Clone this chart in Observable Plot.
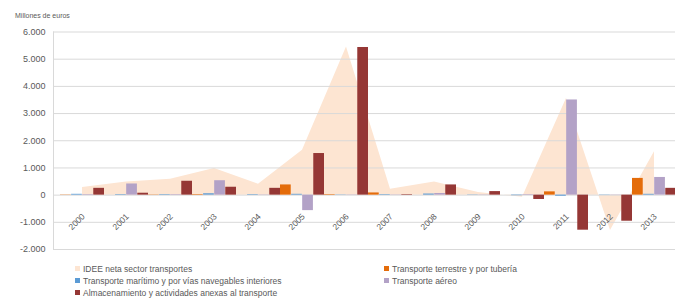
<!DOCTYPE html>
<html><head><meta charset="utf-8">
<script src="https://cdn.jsdelivr.net/npm/d3@7"></script>
<script src="https://cdn.jsdelivr.net/npm/@observablehq/plot@0.6"></script>
<style>
body{margin:0;background:#fff;font-family:"Liberation Sans Narrow","Liberation Sans",sans-serif;}
#wrap{position:relative;width:675px;height:302px;overflow:hidden;}
#chart{position:absolute;left:0;top:0;}
#title{position:absolute;left:15px;top:12px;font-size:7px;color:#595959;}
.leg{position:absolute;font-size:8.5px;line-height:10px;color:#595959;white-space:nowrap;}
.leg i{display:inline-block;width:5px;height:5px;margin-right:3px;vertical-align:1px;}
</style></head><body>
<div id="wrap"><div id="chart"></div><div id="title">Millones de euros</div><div id="legend"></div></div>
<script>
const years = ["2000","2001","2002","2003","2004","2005","2006","2007","2008","2009","2010","2011","2012","2013"];
const idee = [280, 480, 580, 980, 400, 1650, 5450, 220, 480, 100, -80, 3550, -1300, 1600];
const terrestre = [10, 0, 10, 20, 0, 375, 20, 80, 0, 0, 0, 120, 0, 615];
const maritimo = [30, 20, 20, 50, 20, 30, 10, 20, 40, 10, -20, -40, 10, 30];
const aereo = [20, 410, 20, 530, 10, -570, 10, 10, 60, 10, 20, 3500, 10, 650];
const almacenamiento = [250, 70, 510, 290, 250, 1530, 5430, 20, 375, 130, -160, -1290, -960, 250];
const yTicks = [-2000, -1000, 0, 1000, 2000, 3000, 4000, 5000, 6000];
const seriesNames = ["IDEE neta sector transportes","Transporte terrestre y por tubería","Transporte marítimo y por vías navegables interiores","Transporte aéreo","Almacenamiento y actividades anexas al transporte"];
const colors = ["#FDE5D2","#E46C0A","#5B9BD5","#B3A2C7","#953735"];

const data = years.map((year, i) => ({year, idee: idee[i], terrestre: terrestre[i], maritimo: maritimo[i], aereo: aereo[i], almacenamiento: almacenamiento[i]}));

const x0 = 57, x1 = 678;
const bw = (x1 - x0) / years.length / 4;
const fmt = d => d3.format(",")(d).replace(/,/g, ".").replace("\u2212", "-");

const barSeries = [["terrestre", 1], ["maritimo", 2], ["aereo", 3], ["almacenamiento", 4]];

const chart = Plot.plot({
  width: 675, height: 258,
  marginLeft: 53, marginRight: 0, marginTop: 31.5, marginBottom: 9,
  x: {type: "band", domain: years, range: [x0, x1], padding: 0, axis: null},
  y: {domain: [-2000, 6000], axis: null},
  style: {fontFamily: "'Liberation Sans Narrow','Liberation Sans',sans-serif", background: "transparent"},
  marks: [
    Plot.areaY(data, {x: "year", y: "idee", fill: colors[0]}),
    Plot.ruleY(yTicks, {stroke: "#d9d9d9", strokeWidth: 1}),
    Plot.frame({anchor: "left", stroke: "#d9d9d9"}),
    ...barSeries.map(([key, k]) => Plot.barY(data, {
      x: "year", y: key, fill: colors[k],
      insetLeft: (k - 1) * bw, insetRight: (4 - k) * bw
    })),
    Plot.axisY(yTicks, {tickSize: 0, tickPadding: 8, tickFormat: fmt, fontSize: 9, fill: "#595959"}),
    Plot.text(data, {x: "year", y: () => 0, text: "year", rotate: -45, textAnchor: "end", dx: 1, dy: 20, fontSize: 8.5, fontFamily: "'Liberation Sans',sans-serif", fill: "#595959"})
  ]
});
document.getElementById("chart").appendChild(chart);

const legendPos = [[75, 264], [384, 264], [75, 276], [384, 276], [75, 288]];
const lg = document.getElementById("legend");
seriesNames.forEach((name, i) => {
  const d = document.createElement("div");
  d.className = "leg";
  d.style.left = legendPos[i][0] + "px";
  d.style.top = legendPos[i][1] + "px";
  d.innerHTML = `<i style="background:${colors[i]}"></i>${name}`;
  lg.appendChild(d);
});
</script>
</body></html>
